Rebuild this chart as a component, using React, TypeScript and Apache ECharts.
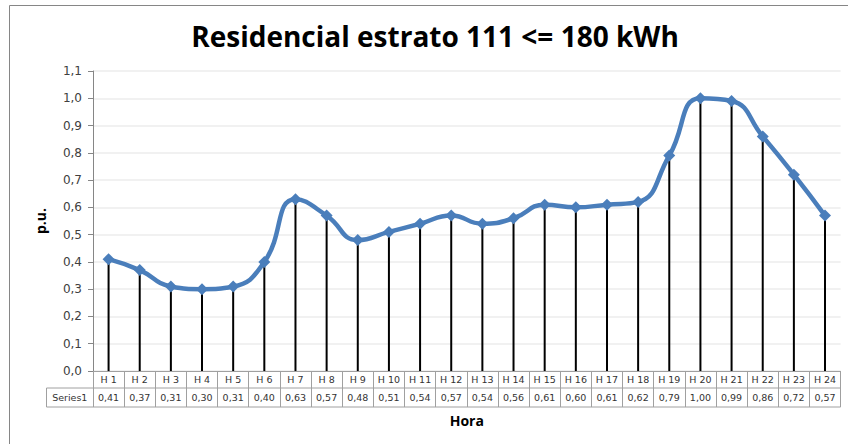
import React, { useEffect, useRef } from "react";
import * as echarts from "echarts";

const categories = [
  "H 1", "H 2", "H 3", "H 4", "H 5", "H 6", "H 7", "H 8", "H 9", "H 10", "H 11", "H 12",
  "H 13", "H 14", "H 15", "H 16", "H 17", "H 18", "H 19", "H 20", "H 21", "H 22", "H 23", "H 24",
];
const series1 = [
  0.41, 0.37, 0.31, 0.30, 0.31, 0.40, 0.63, 0.57, 0.48, 0.51, 0.54, 0.57,
  0.54, 0.56, 0.61, 0.60, 0.61, 0.62, 0.79, 1.00, 0.99, 0.86, 0.72, 0.57,
];
const seriesName = "Series1";
const titleText = "Residencial estrato 111 <= 180 kWh";
const yAxisName = "p.u.";
const xAxisName = "Hora";

const fmt = (v: number, d: number) => v.toFixed(d).replace(".", ",");

export default function App() {
  const ref = useRef<HTMLDivElement>(null);
  useEffect(() => {
    if (!ref.current) return;
    const chart = echarts.init(ref.current, null, { renderer: "svg" });
    const gridLeft = 93;
    const gridRight = 848 - 840.6;
    const axisY = 371;
    const tableMid = 388;
    const tableBottom = 407;
    const tableLeft = 46.5;
    const tableRight = 840.6;
    const gray = "#a0a0a0";
    chart.setOption({
      animation: false,
      backgroundColor: "#ffffff",
      grid: { left: gridLeft, right: gridRight, top: 71, bottom: 444 - axisY },
      xAxis: {
        type: "category",
        data: categories,
        boundaryGap: true,
        name: xAxisName,
        nameLocation: "middle",
        nameGap: 42,
        nameTextStyle: { fontFamily: "Open Sans", fontWeight: "bold", fontSize: 14, color: "#000" },
        axisLine: { show: true, lineStyle: { color: gray, width: 1 } },
        axisTick: { show: true, interval: 0, length: tableBottom - axisY, lineStyle: { color: gray, width: 1 } },
        axisLabel: {
          interval: 0,
          margin: 0,
          color: "#333333",
          formatter: (v: string, i: number) => `{h|${v}}\n{v|${fmt(series1[i], 2)}}`,
          rich: {
            h: { fontFamily: "DejaVu Sans", fontSize: 9.5, color: "#333333", lineHeight: 17, height: 17, align: "center" },
            v: { fontFamily: "DejaVu Sans", fontSize: 9.5, color: "#333333", lineHeight: 19, height: 19, align: "center" },
          },
        },
        splitLine: { show: false },
      },
      yAxis: {
        type: "value",
        min: 0,
        max: 1.1,
        interval: 0.1,
        name: yAxisName,
        nameLocation: "middle",
        nameGap: 46,
        nameTextStyle: { fontFamily: "Open Sans", fontWeight: "bold", fontSize: 14, color: "#000" },
        axisLine: { show: true, lineStyle: { color: "#868686", width: 1 } },
        axisTick: { show: true, length: 5, lineStyle: { color: "#868686" } },
        axisLabel: {
          margin: 11,
          fontFamily: "DejaVu Sans",
          fontSize: 12,
          color: "#404040",
          formatter: (v: number) => fmt(v, 1),
        },
        splitLine: { show: true, lineStyle: { color: "#ececec", width: 1.5 } },
      },
      series: [
        {
          type: "bar",
          name: seriesName + " drop",
          data: series1,
          barWidth: 2,
          itemStyle: { color: "#000000" },
          z: 1,
          silent: true,
        },
        {
          type: "line",
          name: seriesName,
          data: series1,
          smooth: 0.5,
          symbol: "diamond",
          symbolSize: 12,
          lineStyle: { color: "#4a7ebb", width: 4.5 },
          itemStyle: { color: "#4a7ebb" },
          z: 3,
        },
      ],
      graphic: [
        { type: "line", shape: { x1: 9.5, y1: 5.5, x2: 848, y2: 5.5 }, style: { stroke: "#868686", lineWidth: 1 } },
        { type: "line", shape: { x1: 9.5, y1: 5.5, x2: 9.5, y2: 444 }, style: { stroke: "#868686", lineWidth: 1 } },
        {
          type: "text",
          x: 435,
          y: 36,
          style: {
            text: titleText,
            fontFamily: "Open Sans",
            fontWeight: "bold",
            fontSize: 28,
            fill: "#000",
            align: "center",
            verticalAlign: "middle",
          },
        },
        { type: "line", shape: { x1: tableLeft, y1: tableMid, x2: tableRight, y2: tableMid }, style: { stroke: gray, lineWidth: 1 } },
        { type: "line", shape: { x1: tableLeft, y1: tableBottom, x2: tableRight, y2: tableBottom }, style: { stroke: gray, lineWidth: 1 } },
        { type: "line", shape: { x1: tableLeft, y1: tableMid, x2: tableLeft, y2: tableBottom }, style: { stroke: gray, lineWidth: 1 } },
        {
          type: "text",
          x: (tableLeft + gridLeft) / 2,
          y: (tableMid + tableBottom) / 2,
          style: {
            text: seriesName,
            fontFamily: "DejaVu Sans",
            fontSize: 9.5,
            fill: "#333333",
            align: "center",
            verticalAlign: "middle",
          },
        },
      ],
    });
    return () => chart.dispose();
  }, []);
  return (
    <div
      ref={ref}
      style={{ position: "fixed", left: 0, top: 0, width: 848, height: 444 }}
    />
  );
}
